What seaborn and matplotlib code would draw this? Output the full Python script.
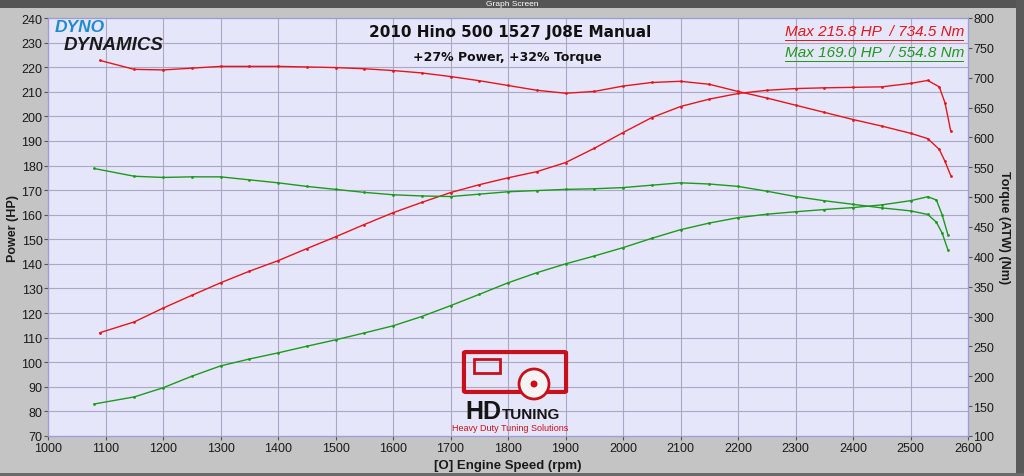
"""Dyno chart: power and torque vs engine speed for a tuned Hino 500."""

import matplotlib

matplotlib.use("Agg")

import matplotlib.pyplot as plt
import pandas as pd
import seaborn as sns
from matplotlib.patches import Ellipse, FancyBboxPatch, Rectangle

# tuned run (red)
rpm_red = [1090, 1150, 1200, 1250, 1300, 1350, 1400, 1450, 1500, 1550, 1600, 1650, 1700, 1750,
           1800, 1850, 1900, 1950, 2000, 2050, 2100, 2150, 2200, 2250, 2300, 2350, 2400, 2450,
           2500, 2530, 2550, 2560, 2570]
power_red = [112.0, 116.4, 122.0, 127.2, 132.3, 137.0, 141.3, 146.2, 151.0, 156.0, 160.8, 165.0,
             169.0, 172.2, 175.0, 177.5, 181.2, 187.0, 193.4, 199.5, 204.0, 207.0, 209.3, 210.6,
             211.3, 211.6, 211.8, 212.0, 213.4, 214.6, 212.0, 205.5, 194.0]
torque_red = [729, 714, 713, 716, 719, 719, 719, 718, 717, 715, 712, 708, 702, 695,
              687, 679, 674, 677, 686, 692, 694, 689, 677, 666, 654, 642, 630, 619,
              607, 598, 580, 560, 536]

# stock run (green)
rpm_green = [1080, 1150, 1200, 1250, 1300, 1350, 1400, 1450, 1500, 1550, 1600, 1650, 1700, 1750,
             1800, 1850, 1900, 1950, 2000, 2050, 2100, 2150, 2200, 2250, 2300, 2350, 2400, 2450,
             2500, 2530, 2545, 2555, 2565]
power_green = [83.0, 85.9, 89.6, 94.3, 98.5, 101.3, 103.8, 106.5, 109.1, 111.9, 114.8, 118.6,
               123.0, 127.6, 132.3, 136.4, 140.0, 143.2, 146.6, 150.4, 153.9, 156.6, 158.8, 160.2,
               161.2, 162.1, 162.9, 164.0, 165.7, 167.3, 166.0, 160.0, 151.9]
torque_green = [548, 535, 533, 534, 534, 529, 524, 518, 513, 508, 504, 502, 501, 505,
                509, 511, 513, 514, 516, 520, 524, 522, 518, 510, 501, 494, 488, 482,
                477, 471, 458, 440, 412]

rpm_ticks = list(range(1000, 2601, 100))
hp_ticks = list(range(70, 241, 10))
nm_ticks = list(range(100, 801, 50))

title = "2010 Hino 500 1527 J08E Manual"
subtitle = "+27% Power, +32% Torque"
legend_red = "Max 215.8 HP  / 734.5 Nm"
legend_green = "Max 169.0 HP  / 554.8 Nm"

RED = "#e8141c"
GREEN = "#1c9a1c"
PLOT_BG = "#e6e6fa"
OUTER_BG = "#c4c4c4"
GRID = "#a9a9c4"
LOGO_RED = "#c8101c"

red = pd.DataFrame({"rpm": rpm_red, "power": power_red, "torque": torque_red})
green = pd.DataFrame({"rpm": rpm_green, "power": power_green, "torque": torque_green})

sns.set_theme(style="white")
plt.rcParams["font.family"] = ["Liberation Sans", "DejaVu Sans"]

fig = plt.figure(figsize=(10.24, 4.77), dpi=100, facecolor=OUTER_BG)
ax = fig.add_axes([48 / 1024, 1 - 437 / 477, 920 / 1024, 418 / 477])
ax2 = ax.twinx()
ax.set_facecolor(PLOT_BG)

line_kw = dict(linewidth=1.0, marker="o", markersize=2.0, markeredgewidth=0, estimator=None, sort=False)
sns.lineplot(data=red, x="rpm", y="power", color=RED, ax=ax, **line_kw)
sns.lineplot(data=green, x="rpm", y="power", color=GREEN, ax=ax, **line_kw)
sns.lineplot(data=red, x="rpm", y="torque", color=RED, ax=ax2, **line_kw)
sns.lineplot(data=green, x="rpm", y="torque", color=GREEN, ax=ax2, **line_kw)

ax.set_xlim(1000, 2600)
ax.set_ylim(70, 240)
ax2.set_ylim(100, 800)
ax.set_xticks(rpm_ticks)
ax.set_yticks(hp_ticks)
ax2.set_yticks(nm_ticks)
ax.grid(True, color=GRID, linewidth=0.8)
ax.set_axisbelow(True)

for a in (ax, ax2):
    for s in a.spines.values():
        s.set_color("#9c9cd8")
        s.set_linewidth(0.8)
    a.tick_params(length=3, width=0.8, color="#555555", labelsize=9, pad=1, labelcolor="#1a1a1a")
ax.tick_params(axis="y", left=True)
ax.tick_params(axis="x", bottom=True)
ax2.tick_params(axis="y", right=True)

ax.set_xlabel("[O] Engine Speed (rpm)", fontsize=9.5, fontweight="bold", labelpad=4, color="#1a1a1a")
ax.set_ylabel("Power (HP)", fontsize=9, fontweight="bold", labelpad=2, color="#1a1a1a")
ax2.set_ylabel("Torque (ATW) (Nm)", fontsize=9, fontweight="bold", rotation=270, labelpad=11, color="#1a1a1a")

# titles
fig.text(510 / 1024, 1 - 32 / 477, title, ha="center", va="center", fontsize=11,
         fontweight="bold", family="DejaVu Sans", color="#111111")
fig.text(507 / 1024, 1 - 57 / 477, subtitle, ha="center", va="center", fontsize=9,
         fontweight="bold", family="DejaVu Sans", color="#111111")

# max legends
for txt, col, yy in ((legend_red, RED, 32), (legend_green, GREEN, 53)):
    fig.text(964 / 1024, 1 - yy / 477, txt, ha="right", va="center", fontsize=11,
             style="italic", color=col)
    fig.add_artist(Rectangle((785 / 1024, 1 - (yy + 10) / 477), 179 / 1024, 1.2 / 477,
                             transform=fig.transFigure, color=col, lw=0))

# dyno dynamics logo
fig.text(55 / 1024, 1 - 27 / 477, "DYNO", fontsize=12.5, fontweight="bold", style="italic",
         color="#1e8ad0", va="center", ha="left")
fig.text(64 / 1024, 1 - 45 / 477, "DYNAMICS", fontsize=13.5, fontweight="bold", style="italic",
         color="#1a1a1a", va="center", ha="left")

# HD tuning logo: simplified truck cab outline with a wheel
fig.add_artist(FancyBboxPatch((466 / 1024, 1 - 392 / 477), 98 / 1024, 38 / 477,
                              boxstyle="round,pad=0.002", transform=fig.transFigure,
                              facecolor="none", edgecolor=LOGO_RED, lw=3))
fig.add_artist(Rectangle((474 / 1024, 1 - 374 / 477), 26 / 1024, 14 / 477,
                         transform=fig.transFigure, facecolor="none", edgecolor=LOGO_RED, lw=2))
fig.add_artist(Ellipse((534 / 1024, 1 - 385 / 477), 30 / 1024, 30 / 477, transform=fig.transFigure,
                       facecolor="#f4f4f4", edgecolor=LOGO_RED, lw=2))
fig.add_artist(Ellipse((534 / 1024, 1 - 385 / 477), 7 / 1024, 7 / 477, transform=fig.transFigure,
                       facecolor=LOGO_RED, lw=0))
fig.text(501 / 1024, 1 - 412 / 477, "HD", fontsize=18, fontweight="bold", color="#151515",
         ha="right", va="center")
fig.text(502 / 1024, 1 - 415 / 477, "TUNING", fontsize=11, fontweight="bold", color="#151515",
         ha="left", va="center")
fig.text(510 / 1024, 1 - 429 / 477, "Heavy Duty Tuning Solutions", fontsize=6.5, color=LOGO_RED,
         ha="center", va="center")

# window chrome
fig.add_artist(Rectangle((0, 1 - 9 / 477), 1, 9 / 477, transform=fig.transFigure,
                         color="#555555", lw=0))
fig.text(0.5, 1 - 4.5 / 477, "Graph Screen", fontsize=6, color="white", ha="center", va="center")
fig.add_artist(Rectangle((1016 / 1024, 0), 8 / 1024, 1, transform=fig.transFigure,
                         color="#5a5a5a", lw=0))
fig.add_artist(Rectangle((0, 0), 1, 3 / 477, transform=fig.transFigure, color="#6a6a6a", lw=0))

fig.savefig("out.png", dpi=100, facecolor=OUTER_BG)
